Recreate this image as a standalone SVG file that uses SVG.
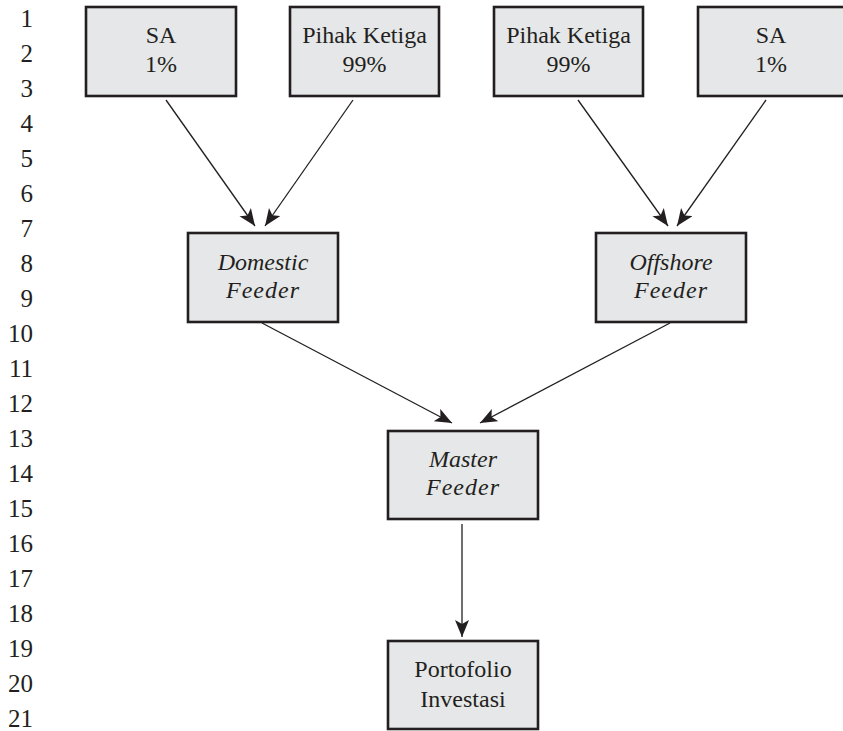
<svg xmlns="http://www.w3.org/2000/svg" width="843" height="731" viewBox="0 0 843 731">
<style>
.box{fill:#e6e7e8;stroke:#231f20;stroke-width:2.6}
.t{font-family:"Liberation Serif","Times New Roman",serif;font-size:24px;fill:#231f20;text-anchor:middle}
.i{font-style:italic}
.n{font-family:"Liberation Serif","Times New Roman",serif;font-size:25px;fill:#231f20;text-anchor:end}
.c{stroke:#231f20;stroke-width:1.3;fill:none;marker-end:url(#ah)}
</style>
<defs>
<marker id="ah" markerUnits="userSpaceOnUse" markerWidth="20" markerHeight="16" refX="17" refY="7" orient="auto">
<path d="M0,0 L17,7 L0,14 L4,7 Z" fill="#231f20"/>
</marker>
</defs>
<rect width="843" height="731" fill="#ffffff"/>
<g id="line-numbers">
<text class="n" x="33" y="27">1</text>
<text class="n" x="33" y="62">2</text>
<text class="n" x="33" y="97">3</text>
<text class="n" x="33" y="132">4</text>
<text class="n" x="33" y="167">5</text>
<text class="n" x="33" y="202">6</text>
<text class="n" x="33" y="237">7</text>
<text class="n" x="33" y="272">8</text>
<text class="n" x="33" y="307">9</text>
<text class="n" x="33" y="342">10</text>
<text class="n" x="33" y="377">11</text>
<text class="n" x="33" y="412">12</text>
<text class="n" x="33" y="447">13</text>
<text class="n" x="33" y="482">14</text>
<text class="n" x="33" y="517">15</text>
<text class="n" x="33" y="552">16</text>
<text class="n" x="33" y="587">17</text>
<text class="n" x="33" y="622">18</text>
<text class="n" x="33" y="657">19</text>
<text class="n" x="33" y="692">20</text>
<text class="n" x="33" y="727">21</text>
</g>
<g id="connectors">
<line class="c" x1="166" y1="100" x2="255" y2="226"/>
<line class="c" x1="353" y1="100" x2="265" y2="226"/>
<line class="c" x1="578" y1="100" x2="668" y2="226"/>
<line class="c" x1="766" y1="100" x2="677" y2="226"/>
<line class="c" x1="262" y1="323" x2="452" y2="423"/>
<line class="c" x1="670" y1="323" x2="480" y2="423"/>
<line class="c" x1="462" y1="524" x2="462" y2="637"/>
</g>
<g id="sa-left">
<rect class="box" x="86" y="7" width="150" height="89"/>
<text class="t" x="161" y="43">SA</text>
<text class="t" x="161" y="72">1%</text>
</g>
<g id="pihak-left">
<rect class="box" x="290" y="7" width="149" height="89"/>
<text class="t" x="364.5" y="43">Pihak Ketiga</text>
<text class="t" x="364.5" y="72">99%</text>
</g>
<g id="pihak-right">
<rect class="box" x="494" y="7" width="149" height="89"/>
<text class="t" x="568.5" y="43">Pihak Ketiga</text>
<text class="t" x="568.5" y="72">99%</text>
</g>
<g id="sa-right">
<rect class="box" x="698" y="7" width="150" height="89"/>
<text class="t" x="771" y="43">SA</text>
<text class="t" x="771" y="72">1%</text>
</g>
<g id="domestic-feeder">
<rect class="box" x="188" y="233" width="150" height="89"/>
<text class="t i" x="263" y="270">Domestic</text>
<text class="t i" x="263" y="298" letter-spacing="1">Feeder</text>
</g>
<g id="offshore-feeder">
<rect class="box" x="596" y="233" width="150" height="89"/>
<text class="t i" x="671" y="270">Offshore</text>
<text class="t i" x="671" y="298" letter-spacing="1">Feeder</text>
</g>
<g id="master-feeder">
<rect class="box" x="388" y="431" width="150" height="88"/>
<text class="t i" x="463" y="467">Master</text>
<text class="t i" x="463" y="495" letter-spacing="1">Feeder</text>
</g>
<g id="portofolio">
<rect class="box" x="388" y="641" width="150" height="88"/>
<text class="t" x="463" y="677">Portofolio</text>
<text class="t" x="463" y="707">Investasi</text>
</g>
</svg>
